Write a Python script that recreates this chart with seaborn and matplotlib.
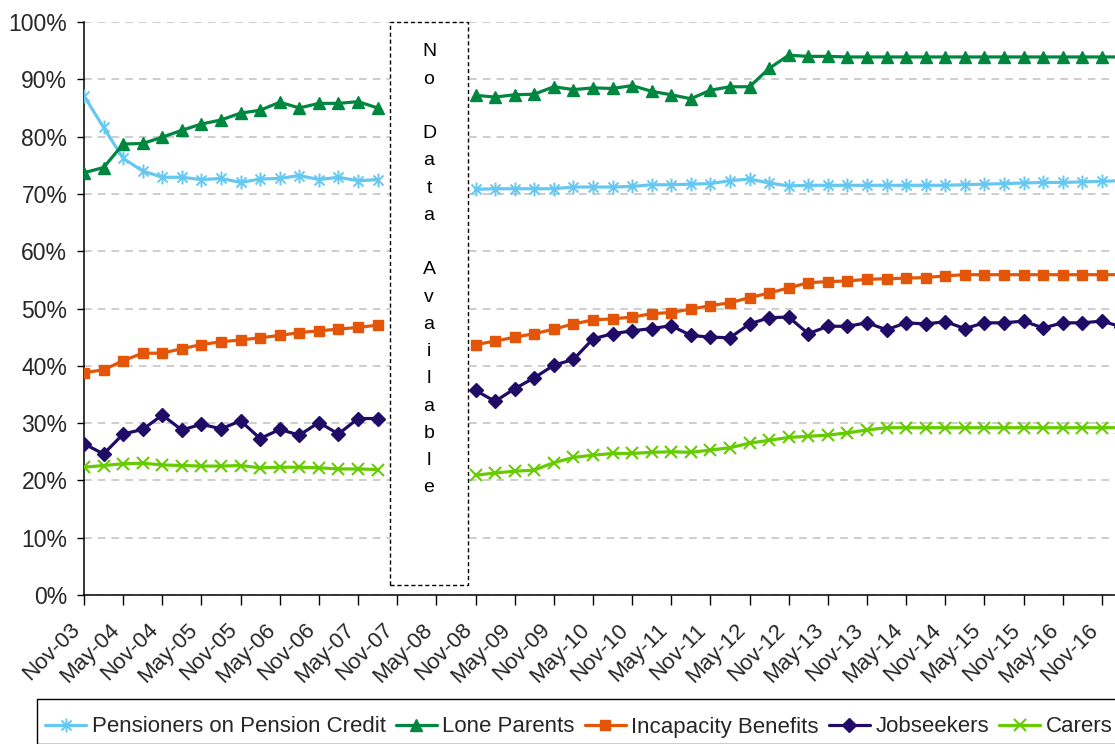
import numpy as np
import pandas as pd
import matplotlib
matplotlib.use("Agg")
import matplotlib.pyplot as plt
import matplotlib.transforms as mtransforms
from matplotlib.path import Path
from matplotlib.lines import Line2D
from matplotlib.patches import Rectangle
import seaborn as sns

# Quarterly reference dates (category axis)
quarters = [
    "Nov-03", "Feb-04", "May-04", "Aug-04", "Nov-04", "Feb-05", "May-05", "Aug-05",
    "Nov-05", "Feb-06", "May-06", "Aug-06", "Nov-06", "Feb-07", "May-07", "Aug-07",
    "Nov-07", "Feb-08", "May-08", "Aug-08", "Nov-08", "Feb-09", "May-09", "Aug-09",
    "Nov-09", "Feb-10", "May-10", "Aug-10", "Nov-10", "Feb-11", "May-11", "Aug-11",
    "Nov-11", "Feb-12", "May-12", "Aug-12", "Nov-12", "Feb-13", "May-13", "Aug-13",
    "Nov-13", "Feb-14", "May-14", "Aug-14", "Nov-14", "Feb-15", "May-15", "Aug-15",
    "Nov-15", "Feb-16", "May-16", "Aug-16", "Nov-16", "Feb-17",
]

# Axis labels shown every six months
tick_labels = [
    "Nov-03", "May-04", "Nov-04", "May-05", "Nov-05", "May-06", "Nov-06", "May-07",
    "Nov-07", "May-08", "Nov-08", "May-09", "Nov-09", "May-10", "Nov-10", "May-11",
    "Nov-11", "May-12", "Nov-12", "May-13", "Nov-13", "May-14", "Nov-14", "May-15",
    "Nov-15", "May-16", "Nov-16",
]

NA = np.nan

pensioners = [
    87.1, 81.6, 76.2, 74.0, 72.9, 72.9, 72.5, 72.7, 72.0, 72.6, 72.7, 73.2, 72.5, 72.9, 72.3, 72.5,
    NA, NA, NA, NA,
    70.8, 70.9, 70.9, 70.9, 70.9, 71.2, 71.2, 71.2, 71.3, 71.6, 71.6, 71.7, 71.8, 72.3, 72.6, 71.9, 71.4,
    71.5, 71.5, 71.5, 71.5, 71.5, 71.5, 71.5, 71.5, 71.6, 71.7, 71.8, 71.9, 72.0, 72.0, 72.1, 72.2, 72.3,
]

lone_parents = [
    73.7, 74.6, 78.7, 78.8, 79.9, 81.1, 82.2, 82.9, 84.1, 84.6, 86.0, 85.0, 85.8, 85.8, 86.1, 85.0,
    NA, NA, NA, NA,
    87.2, 86.9, 87.3, 87.4, 88.7, 88.2, 88.5, 88.4, 88.9, 87.9, 87.3, 86.6, 88.1, 88.7, 88.7, 91.9, 94.2,
    94.0, 94.0, 93.9, 93.9, 93.9, 93.9, 93.9, 93.9, 93.9, 93.9, 93.9, 93.9, 93.9, 93.9, 93.9, 93.9, 93.9,
]

incapacity = [
    38.8, 39.3, 40.9, 42.2, 42.2, 43.0, 43.7, 44.2, 44.5, 44.9, 45.3, 45.8, 46.1, 46.4, 46.7, 47.1,
    NA, NA, NA, NA,
    43.7, 44.3, 45.0, 45.6, 46.4, 47.3, 48.0, 48.2, 48.5, 49.1, 49.3, 49.9, 50.5, 51.0, 51.9, 52.7, 53.6,
    54.5, 54.7, 54.8, 55.1, 55.2, 55.3, 55.4, 55.7, 55.9, 55.9, 55.9, 55.9, 55.9, 55.9, 55.9, 55.9, 55.9,
]

jobseekers = [
    26.4, 24.6, 28.1, 28.9, 31.4, 28.8, 29.8, 29.0, 30.4, 27.3, 28.9, 27.9, 30.1, 28.1, 30.8, 30.8,
    NA, NA, NA, NA,
    35.7, 33.8, 36.0, 37.9, 40.1, 41.1, 44.7, 45.6, 46.1, 46.5, 47.0, 45.3, 45.0, 44.9, 47.3, 48.4, 48.5,
    45.6, 46.9, 46.9, 47.5, 46.3, 47.5, 47.3, 47.7, 46.5, 47.5, 47.5, 47.8, 46.6, 47.5, 47.5, 47.8, 46.8,
]

carers = [
    22.3, 22.6, 22.9, 23.0, 22.7, 22.6, 22.5, 22.5, 22.6, 22.2, 22.3, 22.3, 22.2, 22.0, 22.0, 21.9,
    NA, NA, NA, NA,
    20.9, 21.3, 21.6, 21.8, 23.1, 24.0, 24.4, 24.7, 24.7, 24.9, 25.0, 24.9, 25.3, 25.7, 26.5, 27.0, 27.5,
    27.7, 27.9, 28.3, 28.8, 29.2, 29.2, 29.2, 29.2, 29.2, 29.2, 29.2, 29.2, 29.2, 29.2, 29.2, 29.2, 29.2,
]

series_names = ["Pensioners on Pension Credit", "Lone Parents", "Incapacity Benefits",
                "Jobseekers", "Carers"]
series_values = [pensioners, lone_parents, incapacity, jobseekers, carers]

# Excel-style asterisk: vertical stroke plus a cross
asterisk = Path([(0, -1), (0, 1), (-0.72, -0.72), (0.72, 0.72), (-0.72, 0.72), (0.72, -0.72)],
                [Path.MOVETO, Path.LINETO] * 3)

styles = {
    "Pensioners on Pension Credit": dict(color="#66C8F0", marker=asterisk, ms=10.0, mew=1.4),
    "Lone Parents": dict(color="#00873F", marker="^", ms=8.5, mew=1.0),
    "Incapacity Benefits": dict(color="#E3560A", marker="s", ms=7.6, mew=1.0),
    "Jobseekers": dict(color="#200B66", marker="D", ms=6.8, mew=1.0),
    "Carers": dict(color="#66CC00", marker="x", ms=9.0, mew=1.5),
}

# Long-form table; the four missing quarters split each series into two runs
rows = []
for name, vals in zip(series_names, series_values):
    for i, (q, v) in enumerate(zip(quarters, vals)):
        rows.append(dict(series=name, quarter=q, pos=i, value=v, run=0 if i < 16 else 1))
df = pd.DataFrame(rows).dropna(subset=["value"])

sns.set_theme(style="white")
plt.rcParams["font.family"] = ["Liberation Sans", "DejaVu Sans"]

W, H = 1115, 744
fig = plt.figure(figsize=(W / 100, H / 100), dpi=100)
n_cat = 55
step_px = 19.575
ax = fig.add_axes([84 / W, (H - 595) / H, n_cat * step_px / W, (595 - 22) / H])

for name in series_names:
    st = styles[name]
    sub = df[df["series"] == name]
    sns.lineplot(data=sub, x="pos", y="value", units="run", estimator=None, sort=True,
                 ax=ax, color=st["color"], lw=2.3, marker=st["marker"],
                 markersize=st["ms"], markeredgecolor=st["color"],
                 markerfacecolor=st["color"], markeredgewidth=st["mew"],
                 legend=False, zorder=3)

ax.set_xlim(0, n_cat)
ax.set_ylim(0, 100)
ax.set_xlabel("")
ax.set_ylabel("")

yt = np.arange(0, 101, 10)
ax.set_yticks(yt)
ax.set_yticklabels([f"{v}%" for v in yt], fontsize=16.5)
ax.set_xticks(np.arange(0, 2 * len(tick_labels), 2))
ax.set_xticklabels(tick_labels, fontsize=16, rotation=45, ha="right", va="center",
                   rotation_mode="anchor")

ax.tick_params(axis="x", direction="out", length=7, width=1.0, color="black", pad=16,
               bottom=True)
ax.tick_params(axis="y", direction="out", length=5, width=1.0, color="black", pad=7,
               left=True)

# nudge the slanted date labels a little to the left of their ticks
shift = mtransforms.ScaledTranslation(-7 / 100, 0, fig.dpi_scale_trans)
for lbl in ax.get_xticklabels():
    lbl.set_transform(lbl.get_transform() + shift)

ax.yaxis.grid(True, ls=(0, (5, 4)), color="#C0C0C0", lw=1.1)
ax.xaxis.grid(False)
ax.set_axisbelow(True)
for side in ("top", "right"):
    ax.spines[side].set_visible(False)
for side in ("left", "bottom"):
    ax.spines[side].set_color("black")
    ax.spines[side].set_linewidth(1.1)

# "No Data Available" text box over the missing quarters
x0, x1 = 15.63, 19.62
ax.add_patch(Rectangle((x0, 1.75), x1 - x0, 98.25, facecolor="white", edgecolor="black",
                       ls=(0, (3, 2)), lw=1.0, zorder=2, clip_on=False))
letters = ["N", "o", "", "D", "a", "t", "a", "", "A", "v", "a", "i", "l", "a", "b", "l", "e"]
xc = (x0 + x1) / 2
for i, ch in enumerate(letters):
    if ch:
        ax.text(xc, 94.8 - i * 4.756, ch, ha="center", va="center", fontsize=14,
                color="black", zorder=4)

# Legend: entries in one row, inside a plain black frame that runs off the right edge
fig.add_artist(Rectangle((37 / W, 0), 1.2, 1 - 699 / H, transform=fig.transFigure,
                         facecolor="white", edgecolor="black", lw=1.0, zorder=1))
handles = [Line2D([], [], color=styles[n]["color"], lw=2.3, marker=styles[n]["marker"],
                  markersize=styles[n]["ms"], markeredgecolor=styles[n]["color"],
                  markerfacecolor=styles[n]["color"], markeredgewidth=styles[n]["mew"])
           for n in series_names]
leg = fig.legend(handles, series_names, loc="center left", bbox_to_anchor=(45 / W, 1 - 727 / H),
                 ncol=5, fontsize=16, frameon=False, borderpad=0,
                 handlelength=1.85, handletextpad=0.25, columnspacing=0.45,
                 borderaxespad=0, numpoints=1)
leg.set_zorder(2)

fig.savefig("out.png", dpi=100)
